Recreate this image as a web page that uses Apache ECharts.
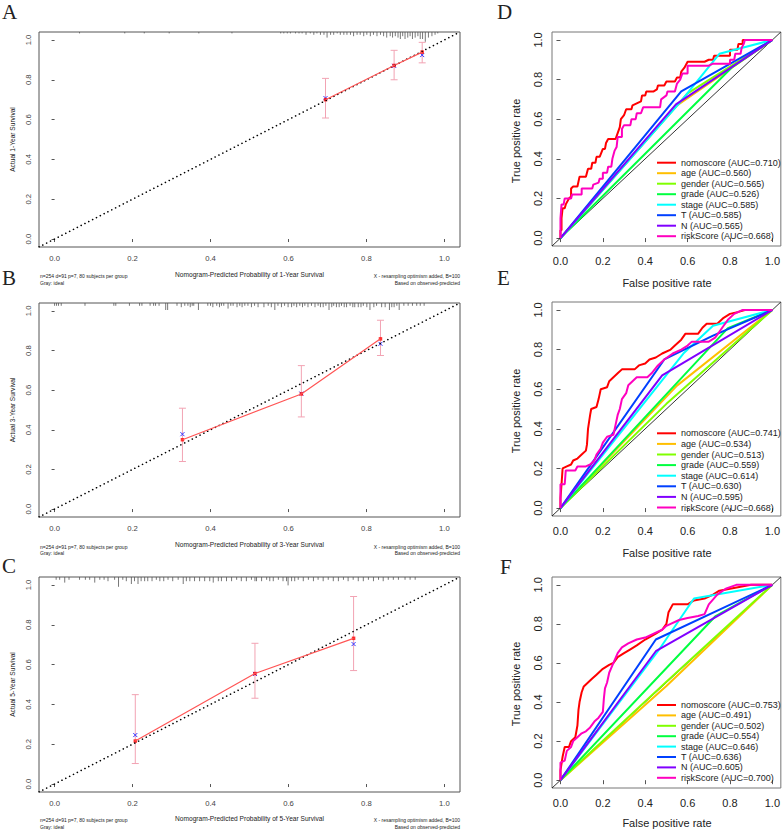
<!DOCTYPE html>
<html>
<head>
<meta charset="utf-8">
<title>Calibration and ROC curves</title>
<script src="https://cdn.jsdelivr.net/npm/echarts@6/dist/echarts.min.js"></script>
<style>
html, body { margin: 0; padding: 0; background: #fff; }
#main { width: 783px; height: 830px; }
</style>
</head>
<body>
<div id="main"></div>
<script>
// ---------- calibration data (A = 1 year, B = 3 years, C = 5 years) ----------
var calTicks = [0, 0.2, 0.4, 0.6, 0.8, 1.0]

var predA = [0.695, 0.871, 0.943]
var obsA  = [0.700, 0.872, 0.939]
var corrA = [0.708, 0.870, 0.924]
var loA   = [0.608, 0.800, 0.885]
var hiA   = [0.807, 0.948, 0.988]

var predB = [0.328, 0.633, 0.836]
var obsB  = [0.350, 0.581, 0.859]
var corrB = [0.378, 0.583, 0.834]
var loB   = [0.240, 0.465, 0.775]
var hiB   = [0.509, 0.724, 0.953]

var predC = [0.207, 0.514, 0.767]
var obsC  = [0.216, 0.555, 0.732]
var corrC = [0.246, 0.553, 0.703]
var loC   = [0.103, 0.431, 0.570]
var hiC   = [0.449, 0.707, 0.942]

// rug of predicted values: [predicted, frequency]
var rugA = [[0.064,1],[0.18,1],[0.23,1],[0.294,1],[0.37,1],[0.455,1],
  [0.580,1],[0.588,1],[0.597,1],[0.605,1],[0.618,1],[0.627,1],[0.635,1],[0.645,2],[0.656,1],[0.665,2],
  [0.673,1],[0.682,2],[0.691,2],[0.699,4],[0.708,2],[0.716,2],[0.725,1],[0.733,2],[0.742,2],[0.750,2],
  [0.759,2],[0.767,3],[0.776,2],[0.784,2],[0.793,3],[0.801,2],[0.810,3],[0.818,2],[0.827,3],[0.836,2],
  [0.844,3],[0.852,4],[0.861,3],[0.867,4],[0.874,3],[0.881,4],[0.887,5],[0.893,3],[0.899,5],[0.906,4],
  [0.912,3],[0.918,5],[0.925,4],[0.932,3],[0.938,5],[0.944,5],[0.951,7],[0.959,4],[0.968,3],[0.976,2],[0.983,1]]

var rugB = [[0.0,2],[0.005,2],[0.01,2],[0.017,2],[0.078,2],[0.152,2],[0.157,2],[0.192,2],[0.218,2],[0.224,2],
  [0.245,2],[0.254,2],[0.259,2],[0.268,2],[0.285,5],[0.29,5],[0.314,2],[0.325,3],[0.334,2],[0.342,2],
  [0.348,3],[0.353,2],[0.357,2],[0.369,5],[0.393,2],[0.4,2],[0.406,3],[0.416,2],[0.423,3],[0.428,2],
  [0.434,2],[0.445,4],[0.452,2],[0.458,2],[0.468,3],[0.475,2],[0.481,3],[0.488,2],[0.496,2],[0.505,3],
  [0.513,2],[0.522,3],[0.537,3],[0.548,2],[0.556,3],[0.565,5],[0.573,2],[0.582,3],[0.590,2],[0.599,3],
  [0.608,3],[0.614,2],[0.621,3],[0.629,2],[0.636,3],[0.642,2],[0.650,3],[0.659,2],[0.668,3],[0.676,2],
  [0.682,3],[0.689,3],[0.696,2],[0.704,5],[0.711,3],[0.716,2],[0.723,3],[0.730,3],[0.736,2],[0.743,3],
  [0.749,3],[0.758,2],[0.765,3],[0.770,3],[0.779,3],[0.786,3],[0.792,2],[0.801,3],[0.809,5],[0.819,3],
  [0.826,2],[0.839,3],[0.848,3],[0.859,5],[0.865,3],[0.871,3],[0.878,2],[0.884,5],[0.896,2],[0.907,2],
  [0.918,2],[0.929,2],[0.938,2],[0.948,2]]

var rugC = [[0.004,2],[0.013,2],[0.026,4],[0.037,2],[0.064,2],[0.079,2],[0.09,2],[0.103,4],[0.116,2],[0.127,2],
  [0.137,3],[0.154,2],[0.164,7],[0.175,2],[0.184,3],[0.197,5],[0.205,3],[0.214,5],[0.222,3],[0.231,3],
  [0.239,3],[0.25,3],[0.261,2],[0.27,3],[0.28,3],[0.291,2],[0.303,3],[0.317,2],[0.33,5],[0.338,3],
  [0.347,3],[0.359,3],[0.372,3],[0.385,3],[0.398,3],[0.407,4],[0.42,3],[0.428,3],[0.441,3],[0.454,3],
  [0.467,2],[0.479,3],[0.492,3],[0.505,2],[0.514,3],[0.518,3],[0.531,3],[0.544,2],[0.552,3],[0.561,3],
  [0.574,2],[0.586,3],[0.595,3],[0.599,6],[0.608,3],[0.616,3],[0.625,2],[0.638,3],[0.651,2],[0.664,3],
  [0.676,2],[0.689,3],[0.702,2],[0.715,3],[0.728,3],[0.741,2],[0.753,3],[0.766,2],[0.779,3],[0.792,3],
  [0.805,2],[0.818,3],[0.831,2],[0.843,3],[0.856,2],[0.869,2],[0.882,2],[0.899,2],[0.912,2],[0.925,2]]

// ---------- ROC data (D = 1 year, E = 3 years, F = 5 years) ----------
var rocNames = ['nomoscore', 'age', 'gender', 'grade', 'stage', 'T', 'N', 'riskScore']
var rocColors = ['#FF0000', '#FFBF00', '#80FF00', '#00FF40', '#00FFFF', '#0040FF', '#8000FF', '#FF00BF']
var aucD = ['0.710', '0.560', '0.565', '0.526', '0.585', '0.585', '0.565', '0.668']
var aucE = ['0.741', '0.534', '0.513', '0.559', '0.614', '0.630', '0.595', '0.668']
var aucF = ['0.753', '0.491', '0.502', '0.554', '0.646', '0.636', '0.605', '0.700']

var nomoD = [[0,0],[0,0.04],[0.005,0.04],[0.005,0.1],[0.01,0.15],[0.02,0.15],[0.025,0.17],[0.04,0.2],[0.05,0.21],
  [0.05,0.25],[0.06,0.26],[0.08,0.26],[0.09,0.31],[0.12,0.31],[0.13,0.35],[0.145,0.35],[0.15,0.38],[0.165,0.38],
  [0.17,0.41],[0.185,0.41],[0.2,0.45],[0.21,0.45],[0.215,0.48],[0.225,0.5],[0.26,0.5],[0.27,0.53],[0.28,0.56],
  [0.285,0.6],[0.3,0.62],[0.31,0.65],[0.335,0.65],[0.34,0.67],[0.36,0.68],[0.38,0.69],[0.385,0.72],[0.4,0.72],
  [0.405,0.74],[0.44,0.74],[0.455,0.75],[0.46,0.77],[0.49,0.77],[0.5,0.79],[0.54,0.79],[0.55,0.81],[0.565,0.81],
  [0.57,0.84],[0.585,0.86],[0.6,0.89],[0.68,0.89],[0.7,0.9],[0.72,0.9],[0.725,0.92],[0.8,0.92],[0.8,0.95],
  [0.835,0.95],[0.84,0.98],[0.86,0.98],[0.86,1.0],[1,1]]
var ageD    = [[0,0],[0.55,0.67],[1,1]]
var genderD = [[0,0],[0.6,0.73],[1,1]]
var gradeD  = [[0,0],[0.81,0.862],[1,1]]
var stageD  = [[0,0],[0.56,0.68],[0.75,0.93],[1,1]]
var tD      = [[0,0],[0.57,0.74],[1,1]]
var nD      = [[0,0],[0.545,0.675],[1,1]]
var riskD = [[0,0],[0,0.1],[0.005,0.17],[0.015,0.17],[0.02,0.2],[0.05,0.2],[0.055,0.22],[0.1,0.22],[0.1,0.25],
  [0.15,0.25],[0.155,0.27],[0.18,0.28],[0.185,0.3],[0.2,0.3],[0.2,0.33],[0.22,0.33],[0.225,0.36],[0.24,0.36],
  [0.245,0.4],[0.255,0.44],[0.265,0.46],[0.27,0.51],[0.29,0.51],[0.29,0.55],[0.3,0.57],[0.33,0.57],[0.335,0.6],
  [0.355,0.6],[0.36,0.63],[0.38,0.63],[0.39,0.66],[0.47,0.66],[0.475,0.7],[0.5,0.72],[0.505,0.74],[0.54,0.74],
  [0.55,0.78],[0.565,0.8],[0.575,0.83],[0.6,0.83],[0.6,0.87],[0.7,0.87],[0.72,0.88],[0.8,0.88],[0.8,0.9],
  [0.82,0.9],[0.825,0.93],[0.85,0.93],[0.855,0.96],[0.865,0.98],[0.87,1.0],[1,1]]

var nomoE = [[0,0],[0,0.05],[0.005,0.12],[0.01,0.2],[0.03,0.21],[0.05,0.22],[0.06,0.24],[0.08,0.25],[0.1,0.27],
  [0.12,0.29],[0.125,0.32],[0.13,0.4],[0.14,0.47],[0.145,0.5],[0.17,0.51],[0.18,0.55],[0.19,0.6],[0.22,0.61],
  [0.23,0.64],[0.25,0.66],[0.27,0.68],[0.29,0.7],[0.35,0.7],[0.37,0.72],[0.4,0.73],[0.42,0.75],[0.45,0.76],
  [0.48,0.78],[0.52,0.8],[0.54,0.82],[0.57,0.85],[0.59,0.88],[0.65,0.88],[0.67,0.91],[0.69,0.93],[0.74,0.93],
  [0.77,0.96],[0.8,0.98],[0.84,0.99],[0.87,1.0],[1,1]]
var ageE    = [[0,0],[0.55,0.618],[1,1]]
var genderE = [[0,0],[0.5,0.526],[1,1]]
var gradeE  = [[0,0],[0.79,0.908],[1,1]]
var stageE  = [[0,0],[0.58,0.78],[0.72,0.92],[1,1]]
var tE      = [[0,0],[0.49,0.75],[0.72,0.87],[1,1]]
var nE      = [[0,0],[0.48,0.67],[1,1]]
var riskE = [[0,0],[0,0.12],[0.02,0.12],[0.025,0.19],[0.07,0.19],[0.08,0.21],[0.12,0.21],[0.14,0.22],[0.16,0.24],
  [0.17,0.27],[0.19,0.3],[0.2,0.33],[0.22,0.36],[0.25,0.37],[0.26,0.42],[0.27,0.47],[0.28,0.5],[0.29,0.55],
  [0.31,0.58],[0.32,0.62],[0.34,0.64],[0.36,0.66],[0.41,0.66],[0.43,0.68],[0.46,0.72],[0.49,0.75],[0.53,0.78],
  [0.57,0.8],[0.6,0.82],[0.62,0.84],[0.7,0.84],[0.73,0.86],[0.75,0.89],[0.77,0.92],[0.79,0.95],[0.82,0.98],
  [0.86,1.0],[1,1]]

var nomoF = [[0,0],[0,0.05],[0.01,0.12],[0.02,0.17],[0.04,0.17],[0.05,0.2],[0.07,0.22],[0.08,0.28],[0.085,0.36],
  [0.09,0.4],[0.1,0.45],[0.11,0.48],[0.13,0.5],[0.15,0.52],[0.17,0.54],[0.2,0.57],[0.23,0.59],[0.25,0.6],
  [0.27,0.63],[0.3,0.65],[0.33,0.67],[0.36,0.69],[0.4,0.72],[0.45,0.75],[0.48,0.77],[0.5,0.8],[0.51,0.86],
  [0.53,0.9],[0.6,0.9],[0.63,0.92],[0.68,0.93],[0.72,0.95],[0.75,0.97],[0.8,0.98],[0.85,0.99],[0.9,1.0],[1,1]]
var ageF    = [[0,0],[0.5,0.482],[1,1]]
var genderF = [[0,0],[0.5,0.504],[1,1]]
var gradeF  = [[0,0],[0.73,0.838],[1,1]]
var stageF  = [[0,0],[0.46,0.66],[0.63,0.93],[1,1]]
var tF      = [[0,0],[0.45,0.72],[1,1]]
var nF      = [[0,0],[0.45,0.66],[1,1]]
var riskF = [[0,0],[0,0.09],[0.02,0.1],[0.03,0.15],[0.05,0.17],[0.06,0.2],[0.08,0.22],[0.1,0.24],[0.12,0.25],
  [0.14,0.27],[0.16,0.3],[0.18,0.32],[0.2,0.35],[0.205,0.42],[0.21,0.47],[0.22,0.5],[0.23,0.55],[0.25,0.6],
  [0.27,0.65],[0.29,0.68],[0.32,0.7],[0.36,0.72],[0.4,0.73],[0.44,0.75],[0.48,0.77],[0.5,0.79],[0.52,0.8],
  [0.56,0.82],[0.6,0.83],[0.65,0.84],[0.68,0.85],[0.7,0.9],[0.74,0.95],[0.78,0.98],[0.83,1.0],[1,1]]

// ---------- helpers ----------
var SANS = "'Liberation Sans', Arial, sans-serif"
var SERIF = "'Liberation Serif', 'Times New Roman', serif"

function fmt1(v) { return Number(v).toFixed(1) }

function makeAxis(grid, isX, big) {
    return {
        type: 'value', gridIndex: grid, min: -0.04, max: 1.04,
        splitLine: { show: false },
        axisLine: { show: false },
        axisTick: { show: true, customValues: calTicks, length: big ? 4 : 3, lineStyle: { color: '#555' } },
        axisLabel: {
            customValues: calTicks, formatter: fmt1, rotate: isX ? 0 : 90,
            fontSize: big ? 11 : 7.7, color: big ? '#222' : '#444', fontFamily: SANS,
            margin: big ? 9 : 7
        }
    }
}

function calSeries(idx, pred, obs, corr, lo, hi, rug) {
    var pts = pred.map(function (x, i) { return [x, obs[i]] })
    var bars = pred.map(function (x, i) { return [x, lo[i], hi[i]] })
    var crosses = pred.map(function (x, i) { return [x, corr[i]] })
    return [
        {
            type: 'line', xAxisIndex: idx, yAxisIndex: idx, silent: true, symbol: 'none',
            data: [[-0.04, -0.04], [1.04, 1.04]],
            lineStyle: { color: '#000', width: 1.6, type: [0.1, 4.2], cap: 'round' }
        },
        {
            type: 'custom', xAxisIndex: idx, yAxisIndex: idx, silent: true, data: rug,
            renderItem: function (params, api) {
                var x = api.coord([api.value(0), 0])[0]
                var top = params.coordSys.y
                return { type: 'line', shape: { x1: x, y1: top, x2: x, y2: top + api.value(1) * 1.4 },
                    style: { stroke: '#555', lineWidth: 0.8 } }
            }
        },
        {
            type: 'custom', xAxisIndex: idx, yAxisIndex: idx, silent: true, data: bars,
            renderItem: function (params, api) {
                var t = api.coord([api.value(0), api.value(2)])
                var b = api.coord([api.value(0), api.value(1)])
                var st = { stroke: '#F2A3B3', lineWidth: 1 }
                return { type: 'group', children: [
                    { type: 'line', shape: { x1: t[0], y1: t[1], x2: b[0], y2: b[1] }, style: st },
                    { type: 'line', shape: { x1: t[0] - 3.5, y1: t[1], x2: t[0] + 3.5, y2: t[1] }, style: st },
                    { type: 'line', shape: { x1: b[0] - 3.5, y1: b[1], x2: b[0] + 3.5, y2: b[1] }, style: st }
                ] }
            }
        },
        {
            type: 'line', xAxisIndex: idx, yAxisIndex: idx, silent: true, symbol: 'none', data: pts,
            lineStyle: { color: '#FF5555', width: 1.2 }
        },
        {
            type: 'scatter', xAxisIndex: idx, yAxisIndex: idx, silent: true, data: pts,
            symbol: 'rect', symbolSize: 3.5, itemStyle: { color: '#FF0000' }
        },
        {
            type: 'custom', xAxisIndex: idx, yAxisIndex: idx, silent: true, data: crosses,
            renderItem: function (params, api) {
                var p = api.coord([api.value(0), api.value(1)])
                var s = 2
                var st = { stroke: '#3333FF', lineWidth: 1 }
                return { type: 'group', children: [
                    { type: 'line', shape: { x1: p[0] - s, y1: p[1] - s, x2: p[0] + s, y2: p[1] + s }, style: st },
                    { type: 'line', shape: { x1: p[0] - s, y1: p[1] + s, x2: p[0] + s, y2: p[1] - s }, style: st }
                ] }
            }
        }
    ]
}

function rocSeries(idx, curves, auc) {
    var list = [{
        type: 'line', xAxisIndex: idx, yAxisIndex: idx, silent: true, symbol: 'none',
        data: [[-0.04, -0.04], [1.04, 1.04]], lineStyle: { color: '#000', width: 0.8 }
    }]
    curves.forEach(function (c, i) {
        list.push({
            name: rocNames[i] + ' (AUC=' + auc[i] + ')',
            type: 'line', xAxisIndex: idx, yAxisIndex: idx, silent: true,
            symbol: 'none', showSymbol: false, data: c, color: rocColors[i],
            lineStyle: { color: rocColors[i], width: 2 }
        })
    })
    return list
}

function rocLegend(auc, top, gap) {
    return {
        data: rocNames.map(function (n, i) { return n + ' (AUC=' + auc[i] + ')' }),
        orient: 'vertical', left: 657, top: top, padding: 0,
        icon: 'rect', itemWidth: 19, itemHeight: 2, itemGap: gap, selectedMode: false,
        textStyle: { fontSize: 9, lineHeight: 10, color: '#222', fontFamily: SANS }
    }
}

function txt(x, y, s, size, align, family, rot) {
    return {
        type: 'text', x: x, y: y, rotation: rot || 0, silent: true,
        style: { text: s, fontSize: size, fontFamily: family || SANS, fill: '#222',
            align: align || 'center', verticalAlign: 'middle' }
    }
}

// ---------- chart ----------
var chart = echarts.init(document.getElementById('main'), null, { renderer: 'svg' })

var calBorder = { show: true, borderColor: '#555', borderWidth: 1 }
var rocBorder = { show: true, borderColor: '#777', borderWidth: 1 }

var texts = [
    txt(2, 11.5, 'A', 21, 'left', SERIF), txt(2, 277.5, 'B', 21, 'left', SERIF), txt(2, 566, 'C', 21, 'left', SERIF),
    txt(497, 11.5, 'D', 21, 'left', SERIF), txt(497, 278, 'E', 21, 'left', SERIF), txt(500, 566.5, 'F', 21, 'left', SERIF)
]
var calY = [139.5, 410, 684.5]
var calBottom = [274, 544.5, 818.5]
var noteY = [276, 546.7, 820]
var years = ['1', '3', '5']
for (var k = 0; k < 3; k++) {
    texts.push(txt(12, calY[k], 'Actual ' + years[k] + '-Year Survival', 6.6, 'center', SANS, Math.PI / 2))
    texts.push(txt(249.5, calBottom[k], 'Nomogram-Predicted Probability of ' + years[k] + '-Year Survival', 6.6))
    texts.push(txt(40, noteY[k], 'n=254 d=91 p=7, 80 subjects per group', 5, 'left'))
    texts.push(txt(40, noteY[k] + 6.6, 'Gray: ideal', 5, 'left'))
    texts.push(txt(460, noteY[k], 'X - resampling optimism added, B=100', 5, 'right'))
    texts.push(txt(460, noteY[k] + 6.6, 'Based on observed-predicted', 5, 'right'))
}
var rocY = [141, 411, 684]
var rocX = [283, 553.3, 823]
for (var m = 0; m < 3; m++) {
    texts.push(txt(516, rocY[m], 'True positive rate', 11, 'center', SANS, Math.PI / 2))
    texts.push(txt(667, rocX[m], 'False positive rate', 11))
}

var option = {
    animation: false,
    backgroundColor: '#fff',
    grid: [
        Object.assign({ left: 39, top: 32, width: 421, height: 215 }, calBorder),
        Object.assign({ left: 39, top: 303, width: 421, height: 214 }, calBorder),
        Object.assign({ left: 39, top: 577, width: 421, height: 215 }, calBorder),
        Object.assign({ left: 552, top: 32, width: 230, height: 214 }, rocBorder),
        Object.assign({ left: 552, top: 302, width: 230, height: 214 }, rocBorder),
        Object.assign({ left: 552, top: 577, width: 230, height: 211 }, rocBorder)
    ],
    xAxis: [makeAxis(0, true), makeAxis(1, true), makeAxis(2, true),
        makeAxis(3, true, true), makeAxis(4, true, true), makeAxis(5, true, true)],
    yAxis: [makeAxis(0, false), makeAxis(1, false), makeAxis(2, false),
        makeAxis(3, false, true), makeAxis(4, false, true), makeAxis(5, false, true)],
    legend: [rocLegend(aucD, 157.7, 0.5), rocLegend(aucE, 428.3, 0.6), rocLegend(aucF, 700, 0.4)],
    graphic: texts,
    series: [].concat(
        calSeries(0, predA, obsA, corrA, loA, hiA, rugA),
        calSeries(1, predB, obsB, corrB, loB, hiB, rugB),
        calSeries(2, predC, obsC, corrC, loC, hiC, rugC),
        rocSeries(3, [nomoD, ageD, genderD, gradeD, stageD, tD, nD, riskD], aucD),
        rocSeries(4, [nomoE, ageE, genderE, gradeE, stageE, tE, nE, riskE], aucE),
        rocSeries(5, [nomoF, ageF, genderF, gradeF, stageF, tF, nF, riskF], aucF)
    )
}
chart.setOption(option)
</script>
</body>
</html>
